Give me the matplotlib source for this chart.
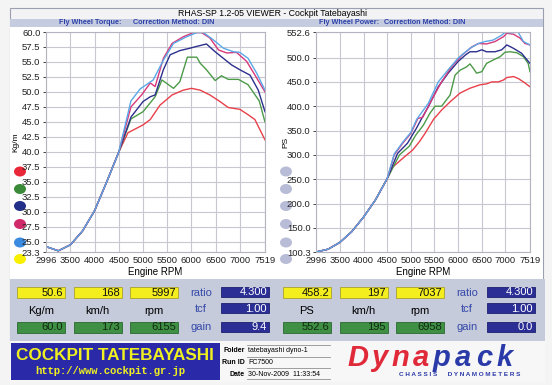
import matplotlib
matplotlib.use("Agg")
import matplotlib.pyplot as plt
from matplotlib.patches import Rectangle, Ellipse

plt.rcParams['font.family'] = ['Liberation Sans', 'DejaVu Sans']

# shared part of all runs (below 4500 rpm the curves lie on top of each other)
rpm_low = [2996, 3250, 3500, 3750, 4000, 4250, 4500]
tq_low = [24.2, 23.5, 24.5, 26.8, 30.2, 35.0, 40.0]
ps_low = [100.3, 106.0, 120.0, 142.0, 172.0, 207.0, 251.0]

# torque (Kg/m) above 4500 rpm
tq_red_rpm = [4690, 5000, 5150, 5350, 5600, 5830, 6000, 6180, 6380, 6590, 6760, 7000, 7170, 7310, 7519]
tq_red = [43.2, 44.5, 45.4, 47.8, 49.5, 50.3, 50.6, 50.3, 49.5, 48.4, 47.4, 47.1, 46.2, 45.4, 42.0]
tq_green_rpm = [4750, 5000, 5250, 5390, 5630, 5760, 5915, 6110, 6180, 6310, 6490, 6620, 6760, 6970, 7170, 7400, 7519]
tq_green = [45.5, 46.7, 49.2, 52.0, 50.6, 51.7, 55.8, 55.8, 54.8, 53.7, 51.9, 52.7, 52.1, 52.1, 51.2, 48.5, 45.0]
tq_navy_rpm = [4750, 5000, 5150, 5250, 5420, 5560, 5760, 5970, 6110, 6310, 6490, 6660, 6830, 7000, 7210, 7380, 7519]
tq_navy = [45.8, 48.4, 49.2, 49.5, 53.7, 56.2, 56.9, 57.3, 57.6, 58.0, 56.7, 55.6, 54.5, 53.7, 52.8, 50.3, 46.7]
tq_pink_rpm = [4750, 4970, 5150, 5250, 5420, 5600, 5830, 6040, 6210, 6380, 6560, 6730, 6930, 7140, 7350, 7519]
tq_pink = [47.5, 49.5, 51.5, 50.9, 55.6, 58.1, 59.2, 59.9, 59.9, 59.0, 57.0, 56.5, 56.6, 55.1, 52.3, 50.0]
tq_blue_rpm = [4750, 4940, 5210, 5420, 5630, 5900, 6110, 6250, 6450, 6660, 6870, 7000, 7170, 7350, 7519]
tq_blue = [48.5, 50.5, 52.0, 55.3, 58.1, 59.2, 59.9, 59.9, 58.7, 57.3, 56.7, 56.6, 55.6, 53.1, 50.3]

# power (PS) above 4500 rpm
ps_red_rpm = [4620, 4830, 5040, 5180, 5300, 5480, 5650, 5830, 6040, 6250, 6460, 6600, 6710, 6850, 6960, 7030, 7170, 7270, 7380, 7519]
ps_red = [275, 293, 310, 327, 344, 373, 392, 409, 427, 437, 444, 446, 450, 450, 454, 459, 461, 457, 450, 440]
ps_green_rpm = [4760, 4970, 5100, 5265, 5400, 5512, 5650, 5830, 5935, 6040, 6180, 6250, 6320, 6390, 6500, 6600, 6740, 6890, 6990, 7100, 7240, 7380, 7480, 7519]
ps_green = [300, 318, 340, 361, 385, 400, 400, 423, 464, 474, 481, 487, 478, 468, 471, 488, 495, 502, 511, 512, 510, 502, 488, 471]
ps_navy_rpm = [4720, 4930, 5120, 5230, 5370, 5580, 5790, 6000, 6150, 6250, 6390, 6500, 6600, 6780, 6920, 7030, 7170, 7340, 7519]
ps_navy = [303, 324, 355, 375, 399, 440, 468, 492, 505, 512, 512, 516, 512, 512, 516, 526, 519, 509, 488]
ps_pink_rpm = [4650, 4830, 5000, 5150, 5250, 5440, 5650, 5860, 6080, 6290, 6430, 6600, 6780, 6960, 7030, 7170, 7310, 7410, 7519]
ps_pink = [300, 324, 344, 375, 377, 413, 450, 481, 505, 522, 529, 528, 533, 543, 550, 548, 540, 529, 526]
ps_blue_rpm = [4650, 4830, 5000, 5124, 5370, 5580, 5790, 6000, 6250, 6430, 6570, 6740, 6920, 6990, 7100, 7270, 7380, 7519]
ps_blue = [302, 326, 346, 373, 406, 450, 475, 499, 519, 529, 533, 536, 546, 552, 551, 552, 533, 526]

tq_ticks = [23.3, 25.0, 27.5, 30.0, 32.5, 35.0, 37.5, 40.0, 42.5, 45.0, 47.5, 50.0, 52.5, 55.0, 57.5, 60.0]
ps_ticks = [100.3, 150.0, 200.0, 250.0, 300.0, 350.0, 400.0, 450.0, 500.0, 552.6]
rpm_ticks = [2996, 3500, 4000, 4500, 5000, 5500, 6000, 6500, 7000, 7519]

# readout boxes
left_units = ['Kg/m', 'km/h', 'rpm']
left_cursor = ['50.6', '168', '5997']
left_max = ['60.0', '173', '6155']
left_params = ['4.300', '1.00', '9.4']
right_units = ['PS', 'km/h', 'rpm']
right_cursor = ['458.2', '197', '7037']
right_max = ['552.6', '195', '6958']
right_params = ['4.300', '1.00', '0.0']
param_names = ['ratio', 'tcf', 'gain']

run_colors = ['#e8404a', '#4c9a48', '#2c2f8c', '#d8387a', '#5aa8e8']
dot_colors = ['#e82838', '#3a8a3a', '#22308a', '#d02a6a', '#3a8ae0', '#f8f000']

W, H = 552, 385
fig = plt.figure(figsize=(W / 100, H / 100), dpi=100)
fig.patch.set_facecolor('#f4f4f4')


def rect_px(x0, y0, x1, y1):
    return [x0 / W, 1 - y1 / H, (x1 - x0) / W, (y1 - y0) / H]


bg = fig.add_axes([0, 0, 1, 1])
bg.set_xlim(0, W)
bg.set_ylim(H, 0)
bg.axis('off')


def box(x0, y0, x1, y1, fc, ec='none', lw=0.6):
    bg.add_patch(Rectangle((x0, y0), x1 - x0, y1 - y0, facecolor=fc, edgecolor=ec, linewidth=lw))


# frame, header, panels
box(10, 8, 543, 343, '#f3f3f5', '#9aa0b0', 0.8)
bg.text(272, 14, 'RHAS-SP 1.2-05 VIEWER - Cockpit Tatebayashi', fontsize=6.3, ha='center', va='center')
box(10, 19, 543, 26.5, '#c5cce0')
hdr = dict(fontsize=5.2, color='#2c3fa8', weight='bold', va='center')
bg.text(59, 23, 'Fly Wheel Torque:', **hdr)
bg.text(133, 23, 'Correction Method: DIN', **hdr)
bg.text(319, 23, 'Fly Wheel Power:', **hdr)
bg.text(384, 23, 'Correction Method: DIN', **hdr)
box(10, 26.5, 543, 279, 'white')
box(10, 279, 545, 341, '#c6cbdc')
box(10, 341, 545, 382, '#f7f7f7')

# legend dots
dot_y = [171.5, 189, 206, 224, 242.5, 259]
for y, c in zip(dot_y, dot_colors):
    bg.add_patch(Ellipse((20, y), 12, 10, facecolor=c, edgecolor='none'))
    bg.add_patch(Ellipse((286, y), 12, 10, facecolor='#b8bcd6', edgecolor='none'))

bg.text(16, 142, 'Kg/m', rotation=90, fontsize=6, ha='center', va='center')
bg.text(286, 142, 'PS', rotation=90, fontsize=6, ha='center', va='center')
bg.text(155, 272, 'Engine RPM', fontsize=7, ha='center', va='center')
bg.text(423, 272, 'Engine RPM', fontsize=7, ha='center', va='center')


def style(ax, ylim, yticks):
    ax.set_xlim(2996, 7519)
    ax.set_ylim(*ylim)
    ax.set_xticks(rpm_ticks)
    ax.set_xticklabels([str(t) for t in rpm_ticks])
    ax.set_yticks(yticks)
    ax.set_yticklabels(['%.1f' % t for t in yticks])
    ax.grid(True, color='#c8c8d2', linewidth=0.8)
    ax.set_axisbelow(True)
    ax.set_facecolor('none')
    for s in ax.spines.values():
        s.set_color('#b4b4c0')
        s.set_linewidth(0.8)
    ax.tick_params(axis='both', labelsize=6.8, colors='#222222', length=2.5, width=0.6, pad=1.5)
    ax.tick_params(axis='x', length=0, pad=3)


ax1 = fig.add_axes(rect_px(46, 32, 265, 252))
style(ax1, (23.3, 60.0), tq_ticks)
ax2 = fig.add_axes(rect_px(316, 32, 530, 252))
style(ax2, (100.3, 552.6), ps_ticks)

tq_runs = [(tq_red_rpm, tq_red), (tq_green_rpm, tq_green), (tq_navy_rpm, tq_navy),
           (tq_pink_rpm, tq_pink), (tq_blue_rpm, tq_blue)]
ps_runs = [(ps_red_rpm, ps_red), (ps_green_rpm, ps_green), (ps_navy_rpm, ps_navy),
           (ps_pink_rpm, ps_pink), (ps_blue_rpm, ps_blue)]
for (r, v), c in zip(tq_runs, run_colors):
    ax1.plot(rpm_low + r, tq_low + v, color=c, linewidth=1.0)
for (r, v), c in zip(ps_runs, run_colors):
    ax2.plot(rpm_low + r, ps_low + v, color=c, linewidth=1.0)


def value_box(x0, x1, y0, y1, txt, fc, ec, tc):
    box(x0, y0, x1, y1, fc, ec, 0.6)
    bg.text(x1 - 2, (y0 + y1) / 2 + 0.5, txt, fontsize=8, color=tc, ha='right', va='center')


def readout(xs, units, cursor, maxv, lab_x, par_x, params):
    for i, x in enumerate(xs):
        value_box(x, x + 48, 286.5, 297.5, cursor[i], '#f4ee1e', '#a8a030', '#111111')
        bg.text(x + 24, 311, units[i], fontsize=8, ha='center', va='center')
        value_box(x, x + 48, 321.5, 332.5, maxv[i], '#3f8f45', '#2a6a30', '#102a10')
    for j, y0 in enumerate([286.5, 303, 321.5]):
        bg.text(lab_x, y0 + 6, param_names[j], fontsize=8, color='#3448a8', ha='center', va='center')
        value_box(par_x, par_x + 48, y0, y0 + 10, params[j], '#2b2f95', '#1c2070', 'white')


readout([17, 73.5, 130], left_units, left_cursor, left_max, 201, 221, left_params)
readout([283, 339.5, 396], right_units, right_cursor, right_max, 467, 487, right_params)

# banner
box(11, 343, 220, 380, '#2a2aa8')
bg.text(115, 356, 'COCKPIT TATEBAYASHI', fontsize=12.3, weight='bold', color='#f0f020',
        ha='center', va='center')
bg.text(110, 371.5, 'http://www.cockpit.gr.jp', fontsize=7.6, weight='bold', color='#f0f020',
        family='Liberation Mono', ha='center', va='center')

# run info
info_lab = ['Folder', 'Run ID', 'Date']
info_val = ['tatebayashi dyno-1', 'FC7500', '30-Nov-2009  11:33:54']
for k, y in enumerate([350, 362, 374]):
    bg.text(245, y, info_lab[k], fontsize=5, weight='bold', ha='right', va='center')
    bg.text(248, y, info_val[k], fontsize=5, ha='left', va='center')
for y in [345, 356.5, 367.5, 378.5]:
    bg.plot([247, 330], [y, y], color='#909090', linewidth=0.6)

# Dynapack logo, letters spread out to the logo's width
logo = 'Dynapack'
for i, ch in enumerate(logo):
    bg.text(358 + i * 21, 358.5, ch, fontsize=21, weight='bold', style='italic',
            color='#e02a3a' if i < 4 else '#2a3aa8', ha='center', va='center')
bg.text(460, 374, 'C H A S S I S      D Y N A M O M E T E R S', fontsize=4.6, weight='bold',
        color='#2a3aa8', ha='center', va='center')

fig.savefig('out.png', dpi=100, facecolor=fig.get_facecolor())
